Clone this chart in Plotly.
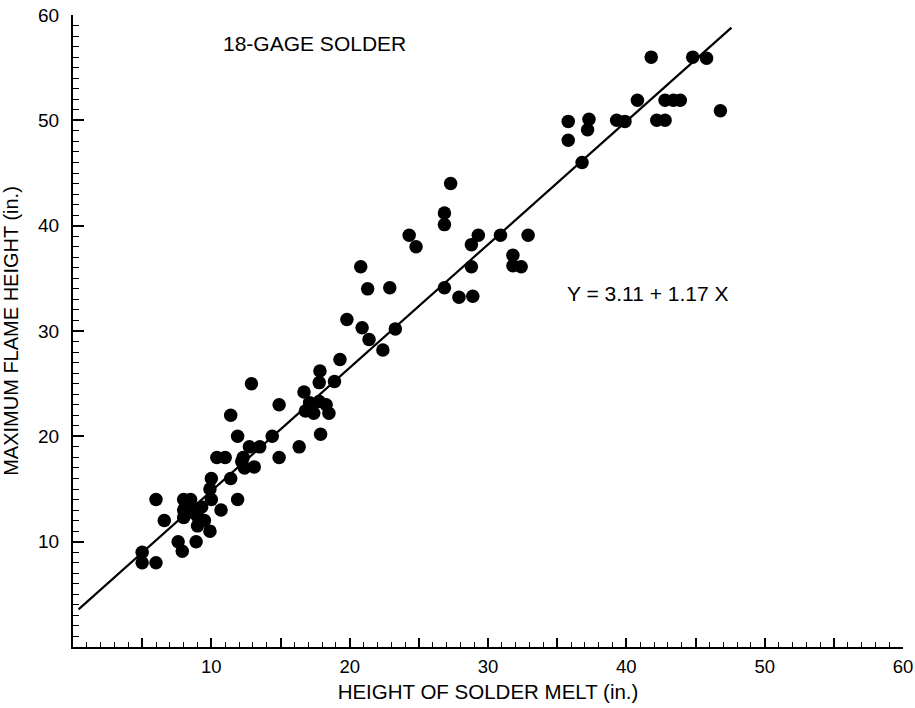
import plotly.graph_objects as go

# ---- data ----
melt_height = [5, 5, 6, 6, 6.6,
               7.6, 7.9, 8.9,
               8, 8.5, 8, 8, 8.6, 9, 9.3, 9.5, 9.9, 8.4, 9,
               9.9, 10, 10, 10.7, 11.4, 11.9,
               10.4, 11, 11.4, 11.9, 12.2, 12.4, 12.3, 13.1, 12.75, 13.5, 12.9,
               14.4, 14.9, 14.9, 16.35, 16.7, 17.9,
               17.1, 17.4, 16.8, 17.8, 18.3, 18.5, 17.8, 17.85, 18.9,
               19.3, 19.8, 20.9, 21.4, 20.8, 21.3, 22.4, 22.9, 23.3,
               24.3, 24.8, 26.85, 26.85, 27.3, 26.85, 27.9, 28.9, 28.8, 28.8, 29.3,
               30.9, 31.8, 31.8, 32.4, 32.9,
               35.8, 35.8, 36.8, 37.3, 37.2,
               39.3, 39.9, 40.8, 41.8, 42.2, 42.8, 42.8, 43.4, 43.9, 44.8, 45.8, 46.8]
flame_height = [9, 8, 8, 14, 12,
                10, 9.1, 10,
                14, 14, 13, 12.3, 12.8, 12.4, 13.3, 12, 11, 13.5, 11.5,
                15, 16, 14, 13, 16, 14,
                18, 18, 22, 20, 17.6, 17, 18, 17.1, 19, 19, 25,
                20, 23, 18, 19, 24.2, 20.2,
                23.2, 22.2, 22.4, 23.3, 23, 22.2, 25.1, 26.2, 25.2,
                27.3, 31.1, 30.3, 29.2, 36.1, 34, 28.2, 34.1, 30.2,
                39.1, 38, 41.2, 40.1, 44, 34.1, 33.2, 33.3, 36.1, 38.2, 39.1,
                39.1, 37.2, 36.2, 36.1, 39.1,
                49.9, 48.1, 46, 50.1, 49.1,
                50, 49.9, 51.9, 56, 50, 50, 51.9, 51.9, 51.9, 56, 55.9, 50.9]

fit_intercept = 3.11
fit_slope = 1.17
fit_x_span = [0.4, 47.6]
fit_y_span = [fit_intercept + fit_slope * v for v in fit_x_span]

x_tick_values = [5, 10, 15, 20, 25, 30, 35, 40, 45, 50, 55, 60]
x_tick_labels = ["", "10", "", "20", "", "30", "", "40", "", "50", "", "60"]
y_tick_values = [10, 20, 30, 40, 50, 60]
y_tick_labels = ["10", "20", "30", "40", "50", "60"]

FONT = "Liberation Sans, Arial, Helvetica, sans-serif"

fig = go.Figure()

fig.add_trace(go.Scatter(
    x=fit_x_span, y=fit_y_span, mode="lines",
    line=dict(color="black", width=2.2), hoverinfo="skip", showlegend=False))

fig.add_trace(go.Scatter(
    x=melt_height, y=flame_height, mode="markers",
    marker=dict(color="black", size=13.5, line=dict(width=0)),
    showlegend=False))

fig.update_layout(
    width=915, height=708,
    margin=dict(l=73, r=12, t=15, b=61),
    paper_bgcolor="white", plot_bgcolor="white",
    font=dict(family=FONT, color="black", size=19),
    xaxis=dict(
        range=[0, 60], showgrid=False, zeroline=False, automargin=False,
        showline=True, linecolor="black", linewidth=2,
        ticks="inside", ticklen=9, tickwidth=1.5, tickcolor="black",
        tickvals=x_tick_values, ticktext=x_tick_labels,
        tickfont=dict(size=18.5, family=FONT), ticklabelstandoff=2,
        ticklabeloverflow="allow",
        minor=dict(dtick=1, tick0=0, ticks="inside", ticklen=5, tickwidth=1.2,
                   tickcolor="black", showgrid=False),
        title=dict(text="HEIGHT OF SOLDER MELT (in.)", font=dict(size=20.5, family=FONT), standoff=8),
    ),
    yaxis=dict(
        range=[0, 60], showgrid=False, zeroline=False, automargin=False,
        showline=True, linecolor="black", linewidth=2,
        ticks="inside", ticklen=11, tickwidth=1.5, tickcolor="black",
        tickvals=y_tick_values, ticktext=y_tick_labels,
        tickfont=dict(size=19, family=FONT), ticklabelstandoff=8,
        ticklabeloverflow="allow",
        minor=dict(dtick=1, tick0=0, ticks="inside", ticklen=6, tickwidth=1.2,
                   tickcolor="black", showgrid=False),
        title=dict(text="MAXIMUM FLAME HEIGHT (in.)", font=dict(size=20, family=FONT), standoff=17),
    ),
    annotations=[
        dict(x=10.7, y=57.3, xref="x", yref="y", text="18-GAGE SOLDER",
             showarrow=False, xanchor="left", yanchor="middle",
             font=dict(size=21, family=FONT)),
        dict(x=35.6, y=33.6, xref="x", yref="y", text="Y = 3.11 + 1.17 X",
             showarrow=False, xanchor="left", yanchor="middle",
             font=dict(size=21, family=FONT)),
    ],
)

fig.write_html("out.html")
